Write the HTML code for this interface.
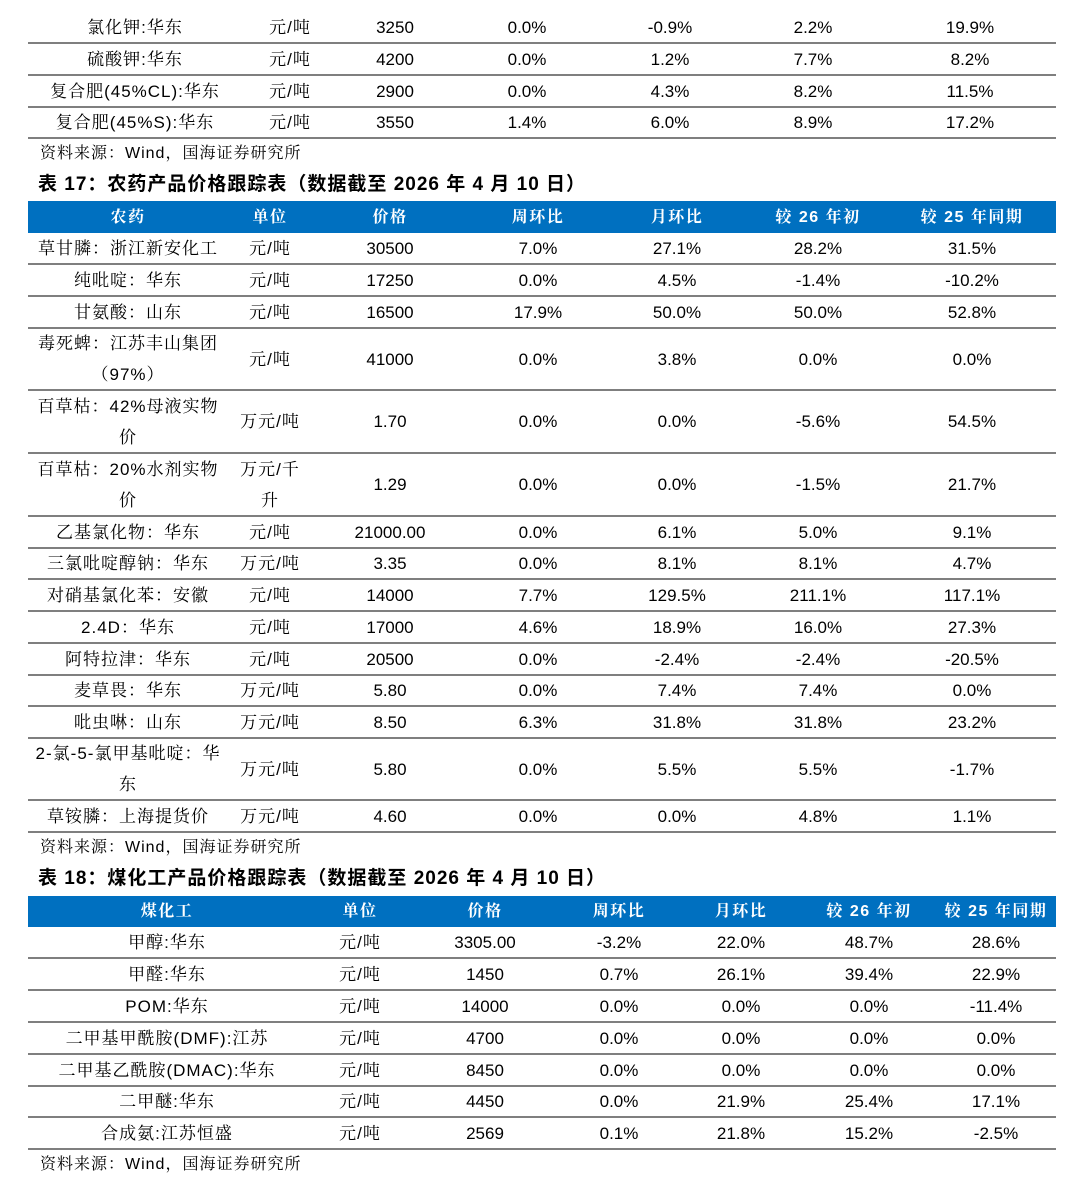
<!DOCTYPE html>
<html><head><meta charset="utf-8">
<style>
html,body{margin:0;padding:0;background:#fff;}
body{width:1080px;height:1177px;position:relative;overflow:hidden;font-family:"Liberation Sans","Noto Sans CJK SC",sans-serif;color:#000;}
.c{position:absolute;text-align:center;font-size:17px;line-height:31px;white-space:nowrap;transform:translateX(-50%);}
.hl{position:absolute;left:28px;width:1028px;height:2px;background:#7f7f7f;}
.hd{position:absolute;left:28px;width:1028px;background:#0070c0;}
.hc{position:absolute;color:#fff;font-size:16px;font-weight:bold;line-height:31px;transform:translateX(-50%);white-space:nowrap;letter-spacing:1.5px;font-family:"Liberation Sans","Noto Serif CJK SC","Noto Serif CJK JP",serif;}
.src{position:absolute;left:40px;font-size:16px;line-height:20px;letter-spacing:1px;}
.ttl{position:absolute;left:38px;font-size:19px;font-weight:bold;line-height:22px;letter-spacing:1px;}
.cn{font-family:"Liberation Sans","Noto Serif CJK SC","Noto Serif CJK JP",serif;letter-spacing:1px;}
</style></head><body>
<div class="src cn" style="top:144px">资料来源：Wind，国海证券研究所</div>
<div class="ttl" style="top:174px">表 17：农药产品价格跟踪表（数据截至 2026 年 4 月 10 日）</div>
<div class="src cn" style="top:838px">资料来源：Wind，国海证券研究所</div>
<div class="ttl" style="top:868px">表 18：煤化工产品价格跟踪表（数据截至 2026 年 4 月 10 日）</div>
<div class="src cn" style="top:1155px">资料来源：Wind，国海证券研究所</div>
<script>
const cols0=[135,290,395,527,670,813,970];
const rows0=[
[["氯化钾:华东"],["元/吨"],"3250","0.0%","-0.9%","2.2%","19.9%"],
[["硫酸钾:华东"],["元/吨"],"4200","0.0%","1.2%","7.7%","8.2%"],
[["复合肥(45%CL):华东"],["元/吨"],"2900","0.0%","4.3%","8.2%","11.5%"],
[["复合肥(45%S):华东"],["元/吨"],"3550","1.4%","6.0%","8.9%","17.2%"]];
const bounds0=[11,43,75,107,138];

const cols1=[128,270,390,538,677,818,972];
const head1=["农药","单位","价格","周环比","月环比","较 26 年初","较 25 年同期"];
const rows1=[
[["草甘膦：浙江新安化工"],["元/吨"],"30500","7.0%","27.1%","28.2%","31.5%"],
[["纯吡啶：华东"],["元/吨"],"17250","0.0%","4.5%","-1.4%","-10.2%"],
[["甘氨酸：山东"],["元/吨"],"16500","17.9%","50.0%","50.0%","52.8%"],
[["毒死蜱：江苏丰山集团","（97%）"],["元/吨"],"41000","0.0%","3.8%","0.0%","0.0%"],
[["百草枯：42%母液实物","价"],["万元/吨"],"1.70","0.0%","0.0%","-5.6%","54.5%"],
[["百草枯：20%水剂实物","价"],["万元/千","升"],"1.29","0.0%","0.0%","-1.5%","21.7%"],
[["乙基氯化物：华东"],["元/吨"],"21000.00","0.0%","6.1%","5.0%","9.1%"],
[["三氯吡啶醇钠：华东"],["万元/吨"],"3.35","0.0%","8.1%","8.1%","4.7%"],
[["对硝基氯化苯：安徽"],["元/吨"],"14000","7.7%","129.5%","211.1%","117.1%"],
[["2.4D：华东"],["元/吨"],"17000","4.6%","18.9%","16.0%","27.3%"],
[["阿特拉津：华东"],["元/吨"],"20500","0.0%","-2.4%","-2.4%","-20.5%"],
[["麦草畏：华东"],["万元/吨"],"5.80","0.0%","7.4%","7.4%","0.0%"],
[["吡虫啉：山东"],["万元/吨"],"8.50","6.3%","31.8%","31.8%","23.2%"],
[["2-氯-5-氯甲基吡啶：华","东"],["万元/吨"],"5.80","0.0%","5.5%","5.5%","-1.7%"],
[["草铵膦：上海提货价"],["万元/吨"],"4.60","0.0%","0.0%","4.8%","1.1%"]];
const bounds1=[233,264,296,328,390,453,516,548,579,611,643,675,706,738,800,832];

const cols2=[167,360,485,619,741,869,996];
const head2=["煤化工","单位","价格","周环比","月环比","较 26 年初","较 25 年同期"];
const rows2=[
[["甲醇:华东"],["元/吨"],"3305.00","-3.2%","22.0%","48.7%","28.6%"],
[["甲醛:华东"],["元/吨"],"1450","0.7%","26.1%","39.4%","22.9%"],
[["POM:华东"],["元/吨"],"14000","0.0%","0.0%","0.0%","-11.4%"],
[["二甲基甲酰胺(DMF):江苏"],["元/吨"],"4700","0.0%","0.0%","0.0%","0.0%"],
[["二甲基乙酰胺(DMAC):华东"],["元/吨"],"8450","0.0%","0.0%","0.0%","0.0%"],
[["二甲醚:华东"],["元/吨"],"4450","0.0%","21.9%","25.4%","17.1%"],
[["合成氨:江苏恒盛"],["元/吨"],"2569","0.1%","21.8%","15.2%","-2.5%"]];
const bounds2=[927,958,990,1022,1054,1086,1117,1149];

function header(top,h,cols,labels,tag){
  const d=document.createElement('div');d.className='hd';
  d.style.top=top+'px';d.style.height=h+'px';
  
  
  document.body.appendChild(d);
  labels.forEach((t,i)=>{
    const e=document.createElement('div');e.className='hc';
    e.style.left=cols[i]+'px';e.style.top=(top+(h-31)/2)+'px';e.textContent=t;
    
    
    document.body.appendChild(e);
  });
}
function body(rows,bounds,cols,tag){
  bounds.slice(1).forEach(y=>{
    const l=document.createElement('div');l.className='hl';l.style.top=(y-1)+'px';
    
    
    document.body.appendChild(l);
  });
  rows.forEach((r,ri)=>{
    const y0=bounds[ri],y1=bounds[ri+1];
    r.forEach((v,ci)=>{
      const lines=Array.isArray(v)?v:[v];
      const e=document.createElement('div');
      e.className='c'+(ci<2?' cn':'');
      e.style.left=cols[ci]+'px';
      const h=lines.length*31;
      e.style.top=((y0+y1)/2-h/2)+'px';
      e.innerHTML=lines.join('<br>');
      
      
      document.body.appendChild(e);
    });
  });
}
body(rows0,bounds0,cols0,'table-16');
header(201,32,cols1,head1,'table-17');
body(rows1,bounds1,cols1,'table-17');
header(896,31,cols2,head2,'table-18');
body(rows2,bounds2,cols2,'table-18');
</script>
</body></html>
